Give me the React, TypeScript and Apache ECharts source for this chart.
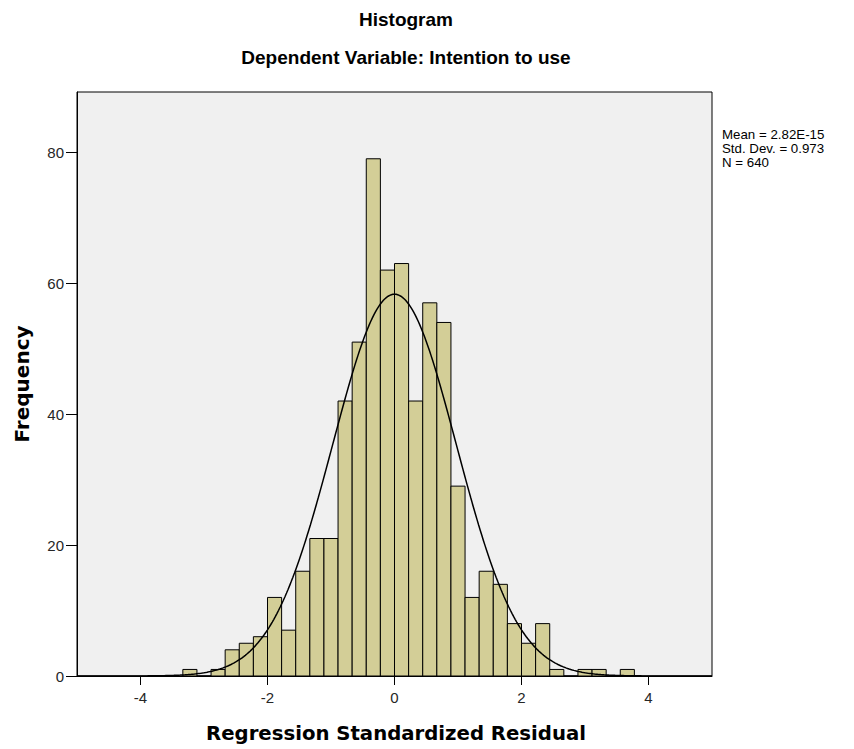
import React, { useEffect, useRef } from "react";
import * as echarts from "echarts";

// Histogram bins: width 2/9, first bin starts at -15 * binWidth
const binWidth = 2 / 9;
const firstBinIndex = -15;
const counts = [1, 0, 1, 4, 5, 6, 12, 7, 16, 21, 21, 42, 51, 79, 62, 63, 42, 57, 54, 29, 12, 16, 14, 8, 5, 8, 1, 0, 1, 1, 0, 1];

// Stats shown in the legend
const statMean = 2.82e-15;
const statSD = 0.973;
const statN = 640;
const statLines = ["Mean = 2.82E-15", "Std. Dev. = 0.973", "N = 640"];

const xTicks = [-4, -2, 0, 2, 4];
const yTicks = [0, 20, 40, 60, 80];

const titleText = "Histogram";
const subtitleText = "Dependent Variable: Intention to use";
const xName = "Regression Standardized Residual";
const yName = "Frequency";

export default function App() {
  const ref = useRef<HTMLDivElement>(null);
  useEffect(() => {
    document.body.style.margin = "0";
    const chart = echarts.init(ref.current!, null, { renderer: "svg" });

    const bins = counts.map((c, i) => {
      const x0 = (firstBinIndex + i) * binWidth;
      return [x0, x0 + binWidth, c];
    });

    const curve: number[][] = [];
    for (let i = 0; i <= 400; i++) {
      const x = -5 + i * 0.025;
      const z = (x - statMean) / statSD;
      const y = (statN * binWidth * Math.exp(-0.5 * z * z)) / (statSD * Math.sqrt(2 * Math.PI));
      curve.push([x, y]);
    }

    const font = "Liberation Sans, Arial, sans-serif";
    const boldFont = "DejaVu Sans, Verdana, sans-serif";

    chart.setOption({
      animation: false,
      backgroundColor: "#ffffff",
      grid: {
        left: 77,
        top: 92,
        width: 635,
        height: 584,
        show: true,
        backgroundColor: "#f0f0f0",
        borderColor: "#000",
        borderWidth: 1,
      },
      xAxis: {
        type: "value",
        min: -5,
        max: 5,
        splitLine: { show: false },
        axisLine: { show: true, onZero: false, lineStyle: { color: "#000", width: 1 } },
        axisTick: { show: true, length: 9, lineStyle: { color: "#000" }, customValues: xTicks },
        axisLabel: { customValues: xTicks, color: "#262626", fontSize: 15, fontFamily: font, margin: 14 },
      },
      yAxis: {
        type: "value",
        min: 0,
        max: 89.2,
        splitLine: { show: false },
        axisLine: { show: true, onZero: false, lineStyle: { color: "#000", width: 1 } },
        axisTick: { show: true, length: 11, lineStyle: { color: "#000" }, customValues: yTicks },
        axisLabel: { customValues: yTicks, color: "#262626", fontSize: 15, fontFamily: font, margin: 13 },
      },
      series: [
        {
          type: "custom",
          data: bins,
          renderItem: (params: any, api: any) => {
            const p0 = api.coord([api.value(0), api.value(2)]);
            const p1 = api.coord([api.value(1), 0]);
            return {
              type: "rect",
              shape: { x: p0[0], y: p0[1], width: p1[0] - p0[0], height: p1[1] - p0[1] },
              style: { fill: "#d3ce97", stroke: "#000", lineWidth: 1 },
            };
          },
          encode: { x: [0, 1], y: 2 },
          z: 2,
        },
        {
          type: "line",
          data: curve,
          showSymbol: false,
          smooth: false,
          lineStyle: { color: "#000", width: 1.5 },
          z: 3,
        },
      ],
      graphic: [
        {
          type: "text",
          x: 406,
          y: 19,
          style: { text: titleText, font: `bold 19px ${font}`, fill: "#000", textAlign: "center", textVerticalAlign: "middle" },
        },
        {
          type: "text",
          x: 406,
          y: 57,
          style: { text: subtitleText, font: `bold 19px ${font}`, fill: "#000", textAlign: "center", textVerticalAlign: "middle" },
        },
        {
          type: "text",
          x: 396,
          y: 733,
          style: { text: xName, font: `bold 19.7px ${boldFont}`, fill: "#000", textAlign: "center", textVerticalAlign: "middle" },
        },
        {
          type: "text",
          x: 22,
          y: 384,
          rotation: Math.PI / 2,
          style: { text: yName, font: `bold 20px ${boldFont}`, fill: "#000", textAlign: "center", textVerticalAlign: "middle" },
        },
        ...statLines.map((t, i) => ({
          type: "text",
          x: 722,
          y: 134 + i * 14,
          style: { text: t, font: `13.3px ${font}`, fill: "#000", textAlign: "left", textVerticalAlign: "middle" },
        })),
      ],
    });
    return () => chart.dispose();
  }, []);
  return <div ref={ref} style={{ width: 854, height: 749 }} />;
}
